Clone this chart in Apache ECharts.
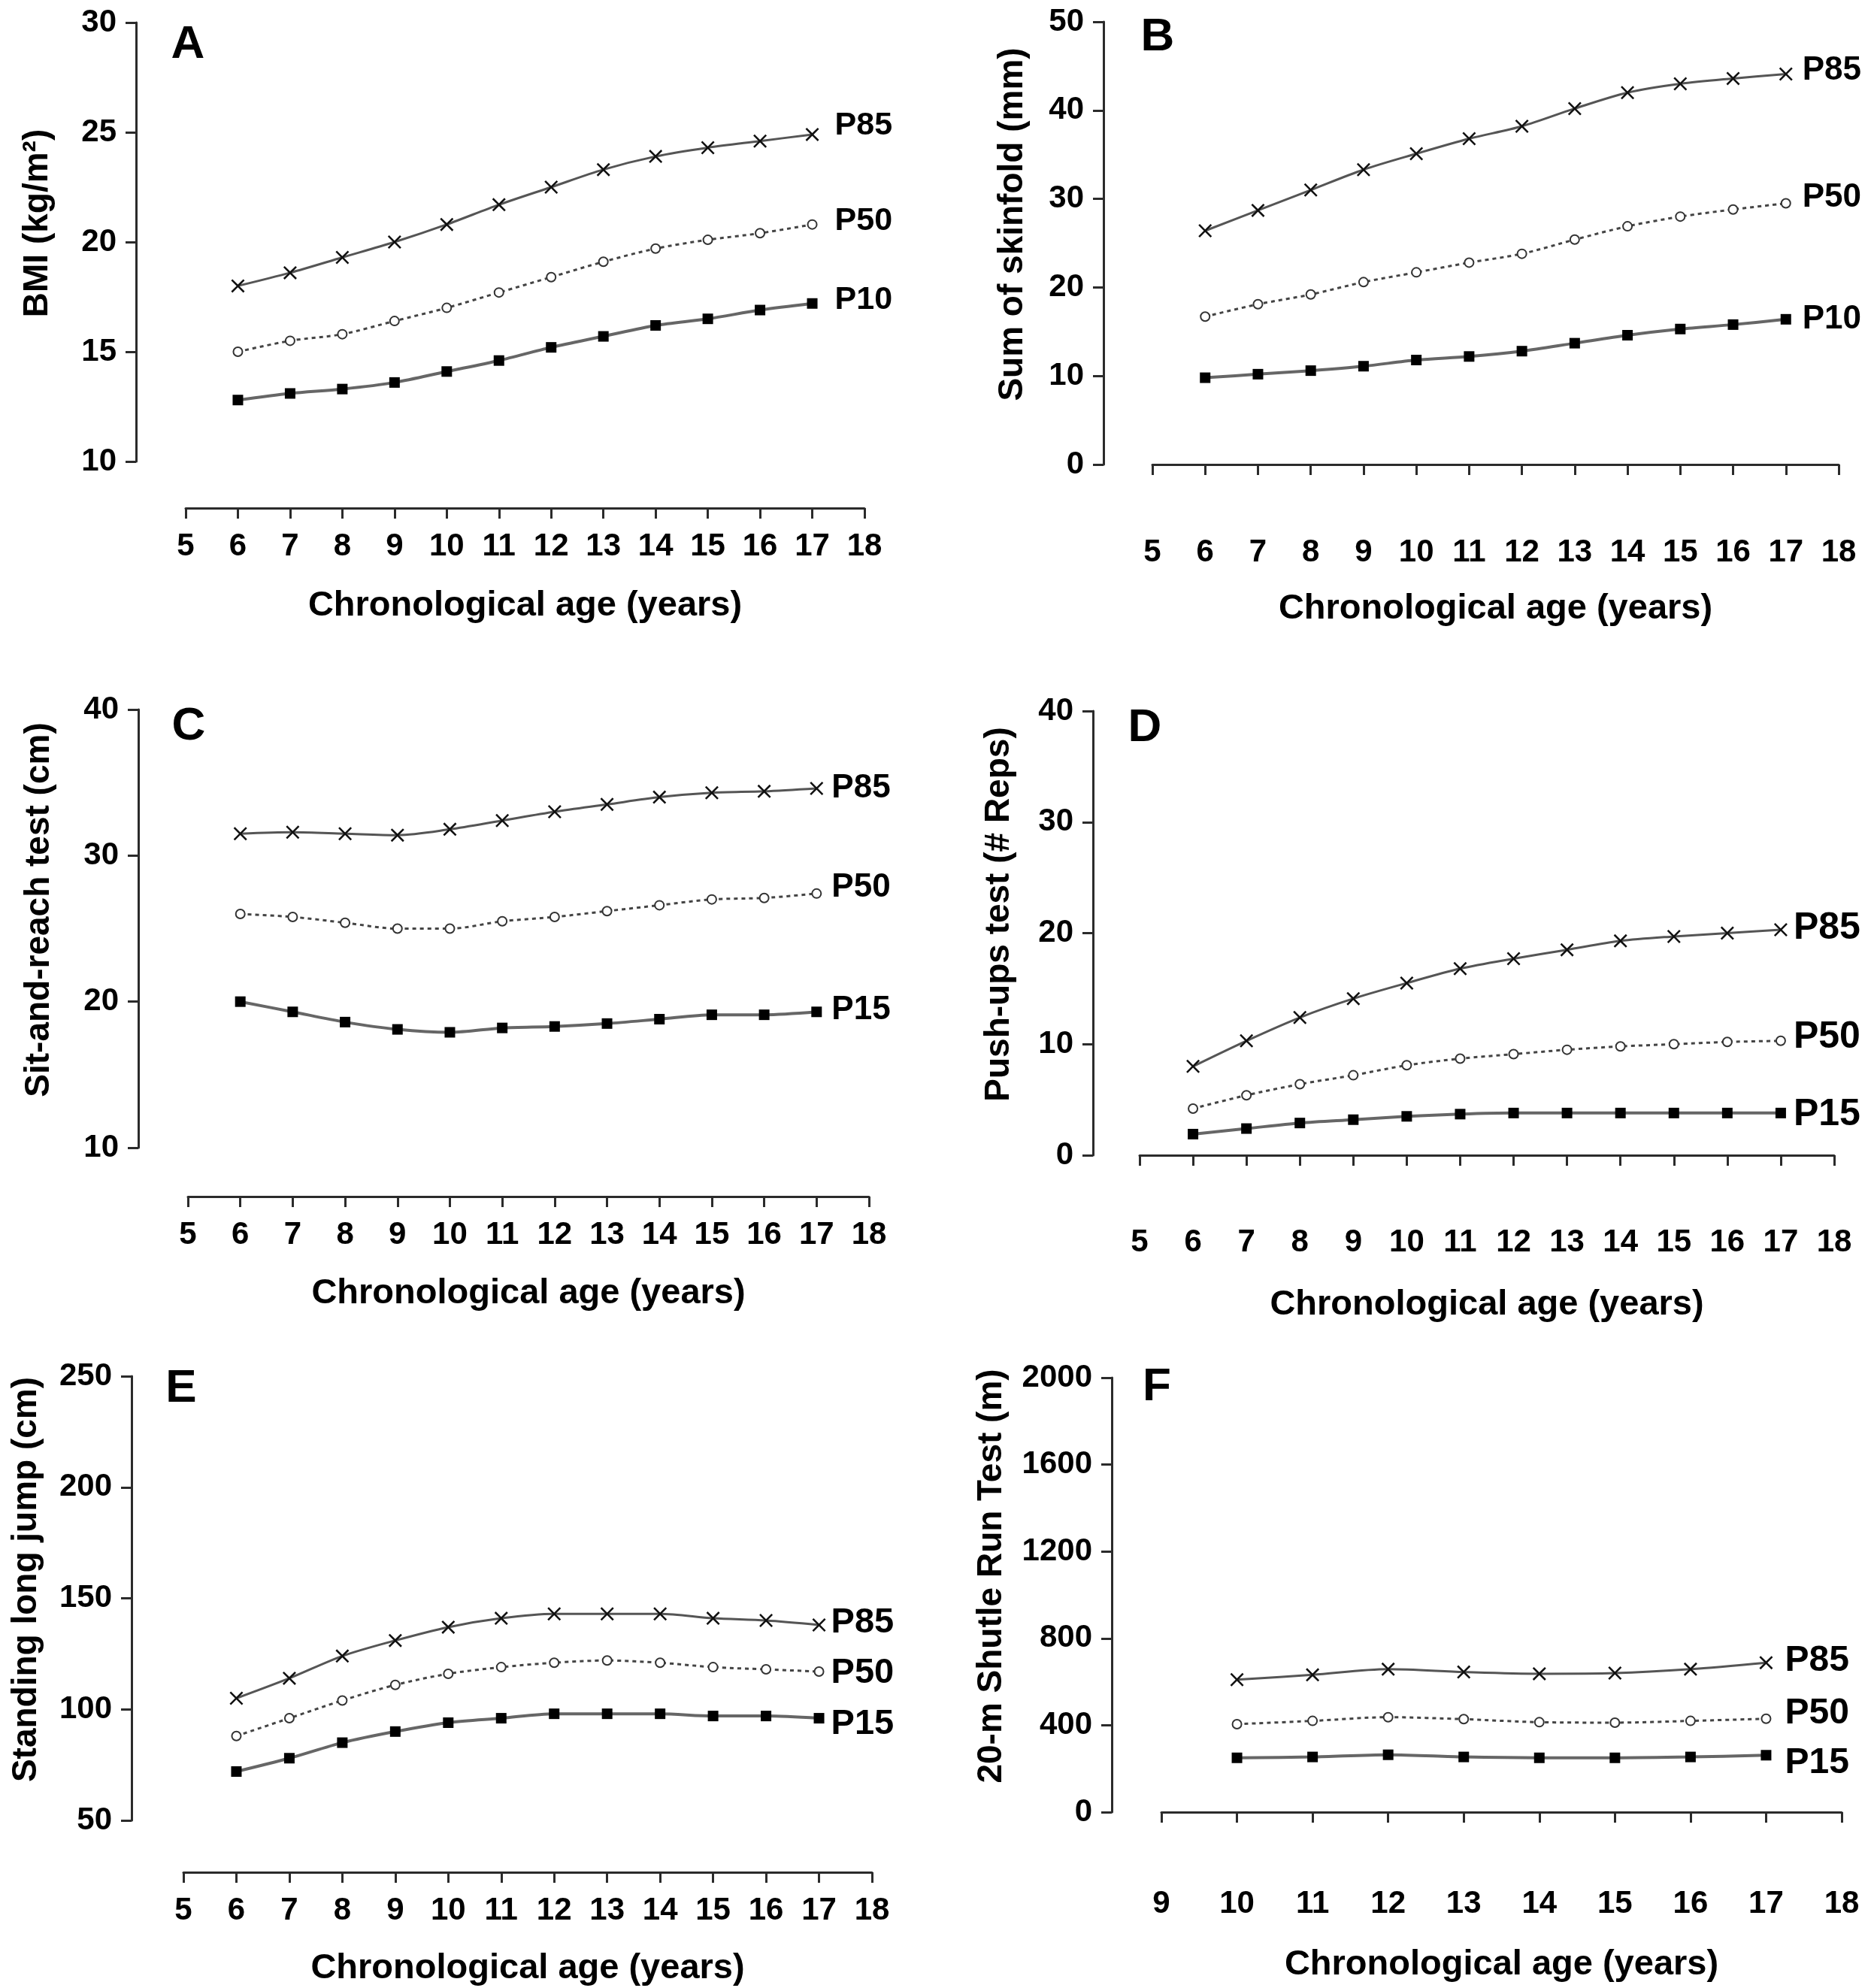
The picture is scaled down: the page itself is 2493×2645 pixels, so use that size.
<!DOCTYPE html>
<html><head><meta charset="utf-8">
<script src="https://cdn.jsdelivr.net/npm/echarts@6/dist/echarts.min.js"></script>
<style>html,body{margin:0;padding:0;background:#fff}#c{width:2493px;height:2645px}</style>
</head><body><div id="c"></div>
<script>
// ---- data ----
const ages = [6, 7, 8, 9, 10, 11, 12, 13, 14, 15, 16, 17];
const agesShuttle = [10, 11, 12, 13, 14, 15, 16, 17];

const bmiP85 = [18.0, 18.6, 19.3, 20.0, 20.8, 21.7, 22.5, 23.3, 23.9, 24.3, 24.6, 24.9];
const bmiP50 = [15.0, 15.5, 15.8, 16.4, 17.0, 17.7, 18.4, 19.1, 19.7, 20.1, 20.4, 20.8];
const bmiP10 = [12.8, 13.1, 13.3, 13.6, 14.1, 14.6, 15.2, 15.7, 16.2, 16.5, 16.9, 17.2];

const skinP85 = [26.4, 28.7, 31.0, 33.3, 35.1, 36.8, 38.2, 40.2, 42.0, 43.0, 43.6, 44.1];
const skinP50 = [16.7, 18.1, 19.2, 20.6, 21.7, 22.8, 23.8, 25.4, 26.9, 28.0, 28.8, 29.5];
const skinP10 = [9.8, 10.2, 10.6, 11.1, 11.8, 12.2, 12.8, 13.7, 14.6, 15.3, 15.8, 16.4];

const sitP85 = [31.5, 31.6, 31.5, 31.4, 31.8, 32.4, 33.0, 33.5, 34.0, 34.3, 34.4, 34.6];
const sitP50 = [26.0, 25.8, 25.4, 25.0, 25.0, 25.5, 25.8, 26.2, 26.6, 27.0, 27.1, 27.4];
const sitP15 = [20.0, 19.3, 18.6, 18.1, 17.9, 18.2, 18.3, 18.5, 18.8, 19.1, 19.1, 19.3];

const pushP85 = [8.0, 10.3, 12.4, 14.1, 15.5, 16.8, 17.7, 18.5, 19.3, 19.7, 20.0, 20.3];
const pushP50 = [4.2, 5.4, 6.4, 7.2, 8.1, 8.7, 9.1, 9.5, 9.8, 10.0, 10.2, 10.3];
const pushP15 = [1.9, 2.4, 2.9, 3.2, 3.5, 3.7, 3.8, 3.8, 3.8, 3.8, 3.8, 3.8];

const jumpP85 = [105, 114, 124, 131, 137, 141, 143, 143, 143, 141, 140, 138];
const jumpP50 = [88, 96, 104, 111, 116, 119, 121, 122, 121, 119, 118, 117];
const jumpP15 = [72, 78, 85, 90, 94, 96, 98, 98, 98, 97, 97, 96];

const shuttleP85 = [610, 632, 658, 645, 637, 640, 658, 688];
const shuttleP50 = [405, 420, 437, 428, 414, 412, 420, 430];
const shuttleP15 = [250, 254, 264, 254, 250, 250, 254, 262];

const xTitle = 'Chronological age (years)';

// ---- panel definitions (data refs + layout) ----
const panels = [
  { letter: 'A', yName: 'BMI (kg/m²)', x: ages, ys: [bmiP85, bmiP50, bmiP10], labels: ['P85', 'P50', 'P10'],
    yMin: 10, yMax: 30, yInt: 5, xMin: 5, xMax: 18,
    g: { axX: 181, top: 30, bot: 614, axY: 676, left: 247, right: 1150, yGap: 108, xGap: 107, lx: 250, ly: 60, dist: 30, fs: 43, offs: [-12, -4, -5] } },
  { letter: 'B', yName: 'Sum of skinfold (mm)', x: ages, ys: [skinP85, skinP50, skinP10], labels: ['P85', 'P50', 'P10'],
    yMin: 0, yMax: 50, yInt: 10, xMin: 5, xMax: 18,
    g: { axX: 1468, top: 29, bot: 618, axY: 684, left: 1533, right: 2446, yGap: 98, xGap: 103, lx: 1540, ly: 50, dist: 22, fs: 44, offs: [-5, -8, 0] } },
  { letter: 'C', yName: 'Sit-and-reach test (cm)', x: ages, ys: [sitP85, sitP50, sitP15], labels: ['P85', 'P50', 'P15'],
    yMin: 10, yMax: 40, yInt: 10, xMin: 5, xMax: 18,
    g: { axX: 184, top: 944, bot: 1527, axY: 1592, left: 250, right: 1156, yGap: 109, xGap: 106, lx: 251, ly: 967, dist: 20, fs: 44, offs: [0, -8, -2] } },
  { letter: 'D', yName: 'Push-ups test (# Reps)', x: ages, ys: [pushP85, pushP50, pushP15], labels: ['P85', 'P50', 'P15'],
    yMin: 0, yMax: 40, yInt: 10, xMin: 5, xMax: 18,
    g: { axX: 1454, top: 946, bot: 1537, axY: 1602, left: 1516, right: 2440, yGap: 102, xGap: 111, lx: 1523, ly: 969, dist: 17, fs: 50, offs: [-2, -5, 2] } },
  { letter: 'E', yName: 'Standing long jump (cm)', x: ages, ys: [jumpP85, jumpP50, jumpP15], labels: ['P85', 'P50', 'P15'],
    yMin: 50, yMax: 250, yInt: 50, xMin: 5, xMax: 18,
    g: { axX: 175, top: 1831, bot: 2422, axY: 2491, left: 244, right: 1160, yGap: 117, xGap: 105, lx: 241, ly: 1848, dist: 16, fs: 47, offs: [-3, 2, 8] } },
  { letter: 'F', yName: '20-m Shutle Run Test (m)', x: agesShuttle, ys: [shuttleP85, shuttleP50, shuttleP15], labels: ['P85', 'P50', 'P15'],
    yMin: 0, yMax: 2000, yInt: 400, xMin: 9, xMax: 18,
    g: { axX: 1479, top: 1833, bot: 2411, axY: 2482, left: 1545, right: 2450, yGap: 137, xGap: 109, lx: 1539, ly: 1846, dist: 25, fs: 48, offs: [-2, -7, 10] } }
];

const FONT = "'Liberation Sans', Arial, Helvetica, sans-serif";
const AX = '#2b2b2b';
const crossPath = 'path://M0,1 L1,0 L5,4 L9,0 L10,1 L6,5 L10,9 L9,10 L5,6 L1,10 L0,9 L4,5 Z';

const styles = [
  { symbol: crossPath, symbolSize: 18, itemStyle: { color: '#111' }, lineStyle: { color: '#555', width: 3, type: 'solid' } },
  { symbol: 'emptyCircle', symbolSize: 12, itemStyle: { color: '#333', borderWidth: 2 }, lineStyle: { color: '#444', width: 3, type: [5, 5] } },
  { symbol: 'rect', symbolSize: 14, itemStyle: { color: '#000' }, lineStyle: { color: '#666', width: 4, type: 'solid' } }
];

const grid = [], xAxis = [], yAxis = [], series = [], graphic = [];
panels.forEach((p, i) => {
  const g = p.g;
  grid.push({ left: g.left, top: g.top, width: g.right - g.left, height: g.bot - g.top, containLabel: false });
  xAxis.push({
    gridIndex: i, type: 'value', min: p.xMin, max: p.xMax, interval: 1, offset: g.axY - g.bot,
    axisLine: { show: true, lineStyle: { color: AX, width: 3 } },
    axisTick: { show: true, length: 14, lineStyle: { color: AX, width: 3 } },
    axisLabel: { fontSize: 42, fontWeight: 'bold', color: '#000', margin: 30, fontFamily: FONT, formatter: v => String(v) },
    splitLine: { show: false },
    name: xTitle, nameLocation: 'middle', nameGap: g.xGap,
    nameTextStyle: { fontSize: 47, fontWeight: 'bold', color: '#000', fontFamily: FONT }
  });
  yAxis.push({
    gridIndex: i, type: 'value', min: p.yMin, max: p.yMax, interval: p.yInt, offset: g.left - g.axX,
    axisLine: { show: true, lineStyle: { color: AX, width: 3 } },
    axisTick: { show: true, length: 14, lineStyle: { color: AX, width: 3 } },
    axisLabel: { fontSize: 42, fontWeight: 'bold', color: '#000', margin: 26, fontFamily: FONT, formatter: v => String(v) },
    splitLine: { show: false },
    name: p.yName, nameLocation: 'middle', nameGap: g.yGap, nameRotate: 90,
    nameTextStyle: { fontSize: 46, fontWeight: 'bold', color: '#000', fontFamily: FONT, padding: [0, 0, 0, 50] }
  });
  p.ys.forEach((vals, k) => {
    const st = styles[k];
    series.push({
      type: 'line', xAxisIndex: i, yAxisIndex: i, name: p.letter + ' ' + p.labels[k],
      data: p.x.map((a, j) => [a, vals[j]]),
      smooth: 0.3, symbol: st.symbol, symbolSize: st.symbolSize, showAllSymbol: true,
      itemStyle: st.itemStyle, lineStyle: st.lineStyle, z: 3 - k,
      endLabel: { show: true, formatter: p.labels[k], distance: g.dist, offset: [0, g.offs[k]],
        fontSize: g.fs, fontWeight: 'bold', color: '#000', fontFamily: FONT }
    });
  });
  graphic.push({ type: 'text', x: g.lx, y: g.ly,
    style: { text: p.letter, font: 'bold 62px ' + FONT, fill: '#000',
      align: 'center', verticalAlign: 'middle', textAlign: 'center', textVerticalAlign: 'middle' } });
});

const chart = echarts.init(document.getElementById('c'), null, { renderer: 'canvas' });
chart.setOption({ animation: false, backgroundColor: '#fff', grid, xAxis, yAxis, series, graphic });
</script></body></html>
